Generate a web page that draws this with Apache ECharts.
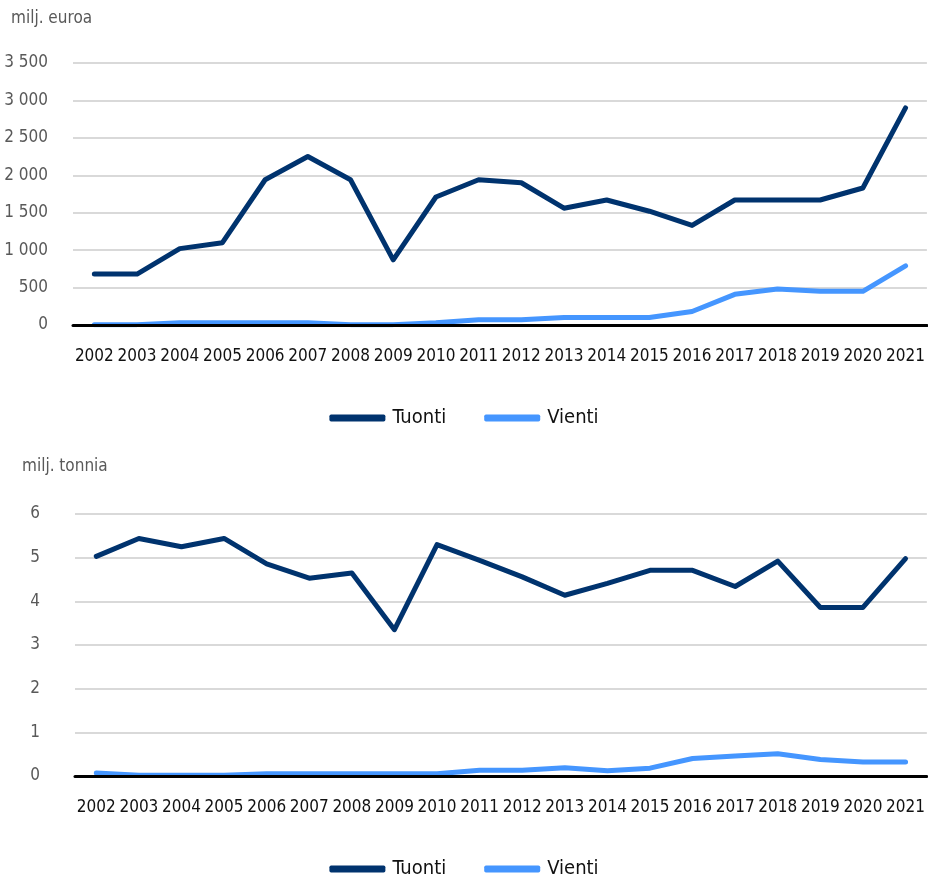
<!DOCTYPE html>
<html>
<head>
<meta charset="utf-8">
<style>
  html, body { margin: 0; padding: 0; background: #fff; }
  #chart { width: 928px; height: 879px; }
</style>
<script src="https://cdn.jsdelivr.net/npm/echarts@6/dist/echarts.min.js"></script>
</head>
<body>
<div id="chart"></div>
<script>
// Years shown on both category axes
const years = ['2002','2003','2004','2005','2006','2007','2008','2009','2010','2011',
               '2012','2013','2014','2015','2016','2017','2018','2019','2020','2021'];

// Value, million euros
const importEur = [680, 680, 1020, 1100, 1940, 2250, 1940, 870, 1710, 1940,
                   1900, 1560, 1670, 1520, 1330, 1670, 1670, 1670, 1830, 2900];
const exportEur = [5, 5, 30, 30, 30, 30, 5, 5, 30, 70,
                   70, 100, 100, 100, 180, 410, 480, 450, 450, 790];

// Volume, million tonnes
const importTon = [5.03, 5.44, 5.25, 5.44, 4.86, 4.53, 4.65, 3.35, 5.30, 4.94,
                   4.56, 4.14, 4.41, 4.71, 4.71, 4.34, 4.92, 3.86, 3.86, 4.98];
const exportTon = [0.07, 0.02, 0.02, 0.02, 0.05, 0.05, 0.05, 0.05, 0.05, 0.13,
                   0.13, 0.19, 0.12, 0.18, 0.40, 0.46, 0.51, 0.38, 0.32, 0.32];

const seriesNames = ['Tuonti', 'Vienti'];
const colImport = '#00336e';
const colExport = '#4596ff';
const FONT = '"DejaVu Sans Condensed", "Liberation Sans Narrow", sans-serif';

const fmtThousands = v => String(v).replace(/\B(?=(\d{3})+(?!\d))/g, '\u00a0');

function xAxisFor(gridIndex) {
  return {
    type: 'category', gridIndex, data: years, boundaryGap: true,
    axisLine: { show: true, lineStyle: { color: '#000', width: 3 } },
    axisTick: { show: false },
    axisLabel: { color: '#111', fontFamily: FONT, fontSize: 17, margin: 23, interval: 0 },
    z: 5
  };
}

function yAxisFor(gridIndex, max, interval, margin, formatter) {
  return {
    type: 'value', gridIndex, min: 0, max, interval,
    axisLine: { show: false }, axisTick: { show: false },
    splitLine: { lineStyle: { color: '#d9d9d9', width: 2 } },
    axisLabel: { color: '#595959', fontFamily: FONT, fontSize: 17, margin, formatter }
  };
}

function lineSeries(name, data, color, axisIndex) {
  return {
    name, type: 'line', data, xAxisIndex: axisIndex, yAxisIndex: axisIndex,
    symbol: 'none', color,
    lineStyle: { color, width: 5, cap: 'round', join: 'round' },
    z: name === 'Tuonti' ? 3 : 4
  };
}

function legendAt(top) {
  return {
    top, left: 'center', data: seriesNames,
    icon: 'roundRect', itemWidth: 56, itemHeight: 7, itemGap: 38,
    textStyle: { color: '#111', fontFamily: FONT, fontSize: 20, padding: [0, 0, 0, 2] }
  };
}

const chart = echarts.init(document.getElementById('chart'), null, { renderer: 'canvas' });
chart.setOption({
  backgroundColor: '#fff',
  animation: false,
  title: [
    { text: 'milj. euroa', left: 6, top: 5,
      textStyle: { color: '#595959', fontFamily: FONT, fontSize: 17, fontWeight: 'normal' } },
    { text: 'milj. tonnia', left: 17, top: 453,
      textStyle: { color: '#595959', fontFamily: FONT, fontSize: 17, fontWeight: 'normal' } }
  ],
  legend: [legendAt(403), legendAt(854)],
  grid: [
    { left: 73, right: 1, top: 63, height: 262, containLabel: false },
    { left: 75, right: 1, top: 514, height: 262, containLabel: false }
  ],
  xAxis: [xAxisFor(0), xAxisFor(1)],
  yAxis: [
    yAxisFor(0, 3500, 500, 25, fmtThousands),
    yAxisFor(1, 6, 1, 35, v => String(v))
  ],
  series: [
    lineSeries('Tuonti', importEur, colImport, 0),
    lineSeries('Vienti', exportEur, colExport, 0),
    lineSeries('Tuonti', importTon, colImport, 1),
    lineSeries('Vienti', exportTon, colExport, 1)
  ]
});
</script>
</body>
</html>
